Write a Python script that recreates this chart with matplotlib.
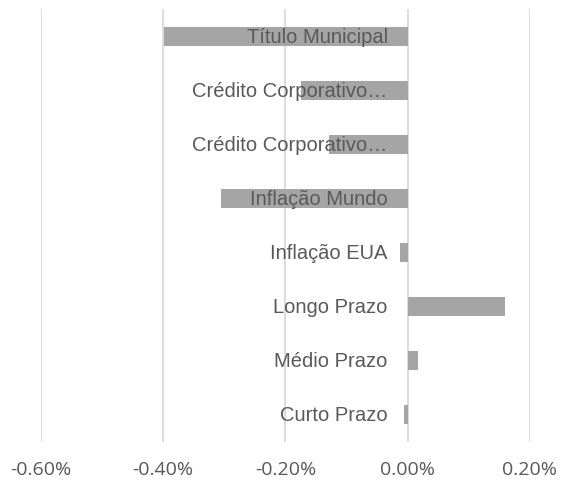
import matplotlib
matplotlib.use("Agg")
import matplotlib.pyplot as plt
import matplotlib.transforms as mtransforms
from matplotlib.ticker import FuncFormatter

# categories from bottom to top, values in percent
categories = ["Curto Prazo", "Médio Prazo", "Longo Prazo", "Inflação EUA",
              "Inflação Mundo", "Crédito Corporativo…", "Crédito Corporativo…",
              "Título Municipal"]
values = [-0.006, 0.016, 0.159, -0.013, -0.306, -0.128, -0.174, -0.399]
x_ticks = [-0.6, -0.4, -0.2, 0.0, 0.2]

text_color = "#595959"
bar_color = "#A5A5A5"
grid_color = "#D9D9D9"

fig = plt.figure(figsize=(5.61, 4.85), dpi=100)
ax = fig.add_axes([0.0731, 0.0866, 0.8716, 0.8928])

pos = list(range(len(categories)))
ax.barh(pos, values, height=0.35, color=bar_color, zorder=2)

ax.set_xlim(-0.6, 0.2)
ax.set_ylim(-0.5, len(categories) - 0.5)
ax.set_xticks(x_ticks)
ax.xaxis.set_major_formatter(FuncFormatter(lambda v, p: f"{v:.2f}%"))
ax.set_yticks([])
ax.tick_params(axis="x", length=0, pad=13, labelsize=14, labelcolor=text_color)
for lbl in ax.get_xticklabels():
    lbl.set_family(["Open Sans", "DejaVu Sans"])

for xv in x_ticks:
    ax.axvline(xv, color=grid_color, linewidth=1.3, zorder=0)

for s in ax.spines.values():
    s.set_visible(False)

# category labels sit next to the zero axis, like Excel
offset = mtransforms.ScaledTranslation(-20 / 100, 0, fig.dpi_scale_trans)
for p, name in zip(pos, categories):
    ax.text(0, p, name, ha="right", va="center", fontsize=14.5,
            color=text_color, family=["Liberation Sans", "DejaVu Sans"],
            transform=ax.transData + offset, zorder=3)

fig.savefig("out.png", dpi=100)
